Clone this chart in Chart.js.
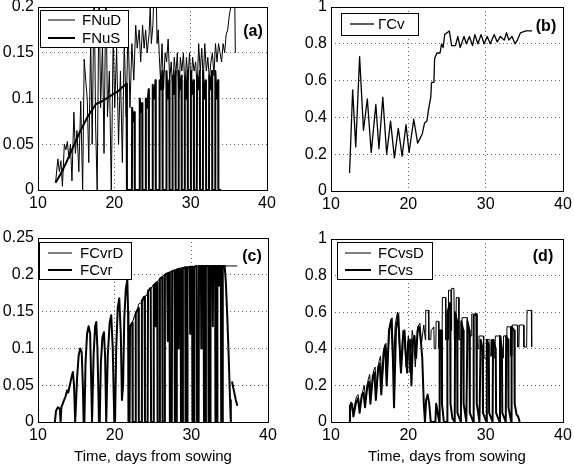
<!DOCTYPE html>
<html>
<head>
<meta charset="utf-8">
<script src="https://cdn.jsdelivr.net/npm/chart.js@4.4.1/dist/chart.umd.min.js"></script>
<style>
  body { margin: 0; background: #fff; }
  #wrap { position: relative; width: 574px; height: 466px; }
  canvas { position: absolute; }
</style>
</head>
<body>
<div id="wrap">
  <canvas id="pa" width="287" height="220" style="left:0;top:0"></canvas>
  <canvas id="pb" width="287" height="220" style="left:287px;top:0"></canvas>
  <canvas id="pc" width="287" height="246" style="left:0;top:220px"></canvas>
  <canvas id="pd" width="287" height="246" style="left:287px;top:220px"></canvas>
</div>
<script>
// values, [day, value]
const fnuD = [[12.3,0.008],[12.6,0.034],[12.8,0.02],[13.0,0.032],[13.2,0.004],[13.45,0.05],[13.65,0.044],[13.85,0.053],[14.05,0.034],[14.25,0.05],[14.45,0.01],[14.7,0.085],[14.9,0.04],[15.1,0.065],[15.35,0.02],[15.6,0.097],[15.85,0],[16.05,0.143],[16.25,0.12],[16.45,0.1],[16.65,0.03],[16.9,0.165],[17.1,0.05],[17.35,0.23],[17.55,0.07],[17.75,0],[18.0,0.23],[18.2,0.09],[18.45,0.16],[18.65,0.04],[18.9,0.23],[19.1,0.08],[19.35,0.13],[19.6,0],[19.85,0.17],[20.05,0.09],[20.3,0.155],[20.55,0.05],[20.8,0.13],[21.05,0.03],[21.3,0.165],[21.55,0.08],[21.8,0.18],[22.05,0.09],[22.3,0.16],[22.55,0.12],[22.8,0.18],[23.0,0.155],[23.25,0.175],[23.45,0.14],[23.7,0.18],[23.9,0.155],[24.1,0.175],[24.3,0.15],[24.55,0.17],[24.7,0.2],[24.85,0.16],[25.05,0.18],[25.25,0.23],[25.45,0.23],[25.6,0.16],[25.75,0.175],[25.9,0.145],[26.05,0.12],[26.25,0.16],[26.45,0.11],[26.65,0.15],[26.85,0.14],[27.05,0.165],[27.25,0.12],[27.45,0.14],[27.65,0.11],[27.85,0.145],[28.05,0.125],[28.25,0.15],[28.45,0.1],[28.65,0.145],[28.85,0.13],[29.05,0.15],[29.25,0.11],[29.45,0.145],[29.65,0.12],[29.85,0.15],[30.05,0.11],[30.25,0.145],[30.45,0.13],[30.65,0.14],[30.85,0.11],[31.05,0.16],[31.25,0.13],[31.45,0.155],[31.65,0.12],[31.85,0.16],[32.05,0.13],[32.25,0.145],[32.45,0.12],[32.65,0.14],[32.85,0.15],[33.05,0.125],[33.25,0.16],[33.45,0.14],[33.65,0.16],[33.85,0.15],[34.05,0.14],[34.25,0.16],[34.45,0.15],[34.65,0.17],[34.85,0.175],[35.05,0.19],[35.25,0.2],[35.45,0.23],[35.75,0.23],[35.85,0.15]];
const fnuS = [[12.3,0.008],[13.0,0.018],[13.7,0.03],[14.5,0.045],[15.4,0.062],[16.5,0.08],[17.6,0.094],[18.4,0.097],[19.7,0.104],[20.5,0.108],[21.0,0.112],[21.6,0.116],[21.65,0],[22.3,0],[22.33,0.09],[22.5,0.075],[22.65,0.085],[22.68,0],[23.3,0],[23.33,0.1],[23.5,0.085],[23.65,0.095],[23.68,0],[24.1,0],[24.13,0.1],[24.3,0.09],[24.5,0.11],[24.53,0],[25.0,0],[25.03,0.115],[25.2,0.1],[25.4,0.12],[25.43,0],[25.9,0],[25.93,0.12],[26.1,0.11],[26.3,0.13],[26.33,0],[26.8,0],[26.83,0.13],[27.0,0.1],[27.2,0.12],[27.23,0],[27.6,0],[27.63,0.125],[27.8,0.105],[28.0,0.13],[28.03,0],[28.4,0],[28.43,0.13],[28.6,0.11],[28.8,0.125],[28.83,0],[29.2,0],[29.23,0.12],[29.4,0.1],[29.6,0.13],[29.63,0],[30.0,0],[30.03,0.13],[30.2,0.105],[30.4,0.12],[30.43,0],[30.8,0],[30.83,0.125],[31.0,0.11],[31.2,0.13],[31.23,0],[31.6,0],[31.63,0.13],[31.8,0.1],[32.0,0.12],[32.03,0],[32.4,0],[32.43,0.125],[32.6,0.11],[32.8,0.13],[32.83,0],[33.2,0],[33.23,0.13],[33.4,0.1],[33.6,0.12],[33.63,0],[34.0,0]];

const gammaCv = [[12.4,0.098],[12.8,0.55],[13.2,0.24],[13.7,0.73],[14.2,0.33],[14.7,0.5],[15.2,0.21],[15.8,0.47],[16.2,0.23],[16.7,0.51],[17.2,0.2],[17.7,0.38],[18.2,0.18],[18.7,0.34],[19.2,0.19],[19.7,0.36],[20.1,0.21],[20.7,0.39],[21.2,0.26],[21.8,0.31],[22.1,0.37],[22.4,0.38],[22.6,0.44],[22.9,0.51],[23.0,0.59],[23.3,0.59],[23.4,0.72],[23.7,0.75],[24.1,0.75],[24.3,0.8],[24.5,0.78],[24.7,0.85],[25.0,0.86],[25.3,0.87],[25.6,0.79],[26.1,0.79],[26.4,0.84],[26.7,0.78],[27.2,0.84],[27.5,0.8],[27.9,0.84],[28.3,0.79],[28.6,0.85],[29.0,0.8],[29.4,0.85],[29.8,0.8],[30.2,0.84],[30.6,0.8],[31.1,0.85],[31.5,0.81],[31.9,0.84],[32.4,0.82],[32.7,0.86],[33.0,0.82],[33.4,0.84],[33.8,0.8],[34.1,0.82],[34.5,0.86],[35.2,0.87],[36.0,0.87]];

const fcvrD = [[22.3,0.135],[22.6,0.145],[23.0,0.152],[23.1,0.16],[23.6,0.163],[23.7,0.17],[24.2,0.172],[24.3,0.178],[24.8,0.182],[25.0,0.186],[25.5,0.19],[26.0,0.196],[26.5,0.2],[27.0,0.203],[27.5,0.205],[28.0,0.207],[28.5,0.209],[29.0,0.21],[29.5,0.211],[30.0,0.211],[31.0,0.212],[32.0,0.212],[33.0,0.212],[34.0,0.212],[35.0,0.212],[36.0,0.212]];
const fcvr = [[12.2,0],[12.35,0.015],[12.6,0.02],[12.85,0.018],[12.95,0],[13.05,0.02],[13.3,0.027],[13.6,0.035],[13.8,0.043],[13.95,0.04],[14.15,0.05],[14.4,0.062],[14.55,0.068],[14.7,0.05],[14.85,0],[14.95,0],[15.1,0.06],[15.3,0.09],[15.5,0.1],[15.7,0.095],[15.85,0.05],[15.95,0],[16.05,0],[16.2,0.08],[16.4,0.12],[16.6,0.13],[16.8,0.12],[16.95,0.05],[17.05,0],[17.1,0],[17.25,0.09],[17.45,0.13],[17.6,0.136],[17.75,0.1],[17.9,0.03],[17.95,0],[18.05,0],[18.2,0.08],[18.4,0.115],[18.6,0.122],[18.75,0.09],[18.9,0],[18.95,0],[19.1,0.09],[19.35,0.135],[19.55,0.145],[19.75,0.1],[19.95,0],[20.05,0],[20.2,0.1],[20.4,0.155],[20.6,0.168],[20.8,0.12],[20.95,0.03],[21.1,0.05],[21.25,0.14],[21.45,0.18],[21.65,0.193],[21.75,0.15],[21.8,0],[21.95,0],[22.0,0.13],[22.3,0.135],[22.35,0],[22.7,0],[22.75,0.148],[23.1,0.155],[23.15,0],[23.5,0],[23.55,0.165],[23.9,0.17],[23.95,0],[24.3,0],[24.35,0.178],[24.7,0.182],[24.75,0],[25.05,0],[25.1,0.186],[25.3,0.188],[25.35,0.13],[25.4,0.189],[25.55,0.19],[25.6,0],[25.85,0],[25.9,0.195],[26.2,0.197],[26.25,0],[26.5,0],[26.55,0.2],[26.85,0.202],[26.9,0.11],[26.95,0.202],[27.15,0.203],[27.2,0],[27.45,0],[27.5,0.205],[27.8,0.206],[27.85,0],[28.05,0],[28.1,0.207],[28.3,0.208],[28.35,0.1],[28.4,0.208],[28.6,0.208],[28.65,0],[28.85,0],[28.9,0.209],[29.2,0.21],[29.25,0],[29.45,0],[29.5,0.21],[29.8,0.21],[29.85,0.12],[29.9,0.211],[30.1,0.211],[30.15,0],[30.35,0],[30.4,0.211],[30.7,0.212],[30.75,0],[30.95,0],[31.0,0.212],[31.25,0.212],[31.3,0.1],[31.35,0.212],[31.6,0.212],[31.65,0],[31.85,0],[31.9,0.212],[32.2,0.212],[32.25,0],[32.45,0],[32.5,0.212],[32.75,0.212],[32.8,0.13],[32.85,0.212],[33.1,0.212],[33.15,0],[33.35,0],[33.4,0.212],[33.55,0.212],[33.6,0.185],[33.65,0.212],[33.85,0.212],[33.9,0],[34.05,0],[34.1,0.212],[34.35,0.212],[34.5,0.19],[34.7,0.14],[34.9,0.08],[35.05,0.03],[35.15,0],[35.2,null],[35.3,0.055],[35.5,0.045],[35.8,0.03],[36.0,0.022]];

const fcvsD = [[12.4,0],[12.5,0.1],[12.6,0.11],[12.8,0.05],[13.0,0.08],[13.3,0.14],[13.5,0.15],[13.7,0.08],[14.0,0.15],[14.3,0.2],[14.5,0.12],[14.8,0.23],[15.0,0.26],[15.2,0.15],[15.5,0.28],[15.7,0.3],[15.9,0.18],[16.2,0.33],[16.4,0.36],[16.6,0.22],[16.9,0.4],[17.1,0.43],[17.3,0.3],[17.6,0.53],[17.9,0.57],[18.1,0.3],[18.3,0.53],[18.6,0.6],[18.8,0.45],[19.0,0.28],[19.3,0.5],[19.5,0.45],[19.7,0.3],[20.0,0.47],[20.2,0.27],[20.5,0.5],[20.7,0.45],[20.9,0.3],[21.2,0.52],[21.5,0.54],[21.7,0.43],[22.0,0.53],[22.2,0.45],[22.25,0.61],[22.6,0.61],[22.65,0.45],[22.9,0.45],[22.95,0.5],[23.3,0.52],[23.35,0.4],[23.55,0.4],[23.6,0.55],[23.9,0.55],[23.95,0.4],[24.35,0.4],[24.4,0.68],[24.8,0.68],[24.85,0.45],[25.15,0.45],[25.2,0.72],[25.5,0.72],[25.55,0.5],[25.6,0.73],[25.9,0.73],[25.95,0.45],[26.15,0.45],[26.2,0.68],[26.5,0.68],[26.55,0.45],[26.9,0.45],[26.95,0.57],[27.6,0.57],[27.65,0.4],[27.85,0.4],[27.9,0.47],[28.15,0.47],[28.2,0.59],[28.85,0.59],[28.9,0.4],[29.1,0.4],[29.15,0.47],[29.7,0.47],[29.75,0.35],[30.15,0.35],[30.2,0.45],[30.55,0.45],[30.6,0.36],[30.7,0.36],[30.75,0.45],[31.0,0.45],[31.05,0.35],[31.2,0.35],[31.25,0.47],[31.9,0.47],[31.95,0.35],[32.25,0.35],[32.3,0.47],[32.7,0.47],[32.75,0.52],[33.2,0.52],[33.25,0.36],[33.4,0.36],[33.45,0.53],[34.1,0.53],[34.15,0.41],[34.3,0.41],[34.35,0.53],[34.9,0.53],[34.95,0.41],[35.3,0.41],[35.35,0.61],[35.9,0.61],[35.95,0.41]];
const fcvs = [[12.4,0],[12.45,0.09],[12.7,0.1],[12.9,0.03],[13.2,0.1],[13.5,0.13],[13.7,0.05],[14.0,0.15],[14.2,0.16],[14.4,0.08],[14.7,0.2],[14.9,0.22],[15.1,0.1],[15.4,0.25],[15.6,0.27],[15.8,0.12],[16.1,0.3],[16.3,0.32],[16.5,0.15],[16.8,0.38],[17.0,0.42],[17.2,0.2],[17.5,0.5],[17.8,0.56],[18.0,0.35],[18.15,0.08],[18.4,0.5],[18.7,0.59],[18.9,0.4],[19.05,0.27],[19.3,0.45],[19.5,0.5],[19.7,0.35],[19.85,0.27],[20.0,0.44],[20.2,0.45],[20.4,0.2],[20.6,0.45],[20.8,0.47],[21.0,0.35],[21.2,0.5],[21.4,0.52],[21.6,0.45],[21.8,0.35],[22.0,0.1],[22.15,0],[22.3,0.12],[22.5,0.15],[22.7,0.1],[22.9,0],[23.5,0],[23.6,0.1],[23.8,0.05],[24.0,0],[24.05,0.5],[24.3,0.5],[24.35,0.1],[24.6,0],[25.0,0],[25.05,0.6],[25.4,0.65],[25.45,0.1],[25.7,0.02],[26.0,0],[26.05,0.6],[26.3,0.55],[26.35,0.05],[26.8,0],[26.85,0.55],[27.1,0.5],[27.15,0.1],[27.5,0],[27.65,0.55],[27.9,0.5],[27.95,0.05],[28.4,0],[28.45,0.58],[28.8,0.59],[28.85,0.1],[29.2,0],[29.35,0.45],[29.6,0.4],[29.65,0.05],[30.1,0],[30.15,0.45],[30.4,0.42],[30.45,0.05],[30.9,0],[30.95,0.45],[31.3,0.4],[31.35,0.05],[31.8,0],[31.85,0.47],[32.1,0.4],[32.15,0.05],[32.6,0],[32.65,0.47],[32.9,0.45],[32.95,0.08],[33.3,0],[33.35,0.52],[33.7,0.5],[33.75,0.1],[34.0,0.04],[34.2,0.03],[34.4,0]];

const xTicks = [10, 20, 30, 40];
const xTitle = 'Time, days from sowing';

const FONT = '"Liberation Sans", Arial, Helvetica, sans-serif';
Chart.defaults.font.family = FONT;
Chart.defaults.font.size = 15;
Chart.defaults.color = '#000';

// draws the axes box, an opaque legend box inside the plot and the panel tag
const framePlugin = {
  id: 'frame',
  afterDatasetsDraw(chart, args, o) {
    const ctx = chart.ctx, a = chart.chartArea;
    ctx.save();
    const [bx, by, bw, bh] = o.box;
    ctx.fillStyle = '#fff';
    ctx.fillRect(bx, by, bw, bh);
    ctx.strokeStyle = '#000';
    ctx.lineWidth = 1;
    ctx.strokeRect(bx + 0.5, by + 0.5, bw, bh);
    ctx.font = '15px ' + FONT;
    ctx.textBaseline = 'middle';
    ctx.fillStyle = '#000';
    chart.data.datasets.forEach((ds, i) => {
      const y = o.rows[i];
      ctx.lineWidth = ds.borderWidth;
      ctx.beginPath();
      ctx.moveTo(o.line[0], y);
      ctx.lineTo(o.line[1], y);
      ctx.stroke();
      ctx.fillText(ds.label, o.textX, y + 1);
    });
    ctx.lineWidth = 1;
    ctx.strokeRect(a.left + 0.5, a.top + 0.5, a.right - a.left, a.bottom - a.top);
    ctx.font = 'bold 16px ' + FONT;
    ctx.textAlign = 'center';
    ctx.fillText(o.tag, o.tagAt[0], o.tagAt[1]);
    ctx.restore();
  }
};

const fmt = v => String(Math.round(v * 100) / 100);
const pts = arr => arr.map(p => ({ x: p[0], y: p[1] }));

function line(label, arr, w) {
  return { label, data: pts(arr), borderColor: '#000', borderWidth: w,
           pointRadius: 0, tension: 0, borderJoinStyle: 'round', spanGaps: false };
}

function makeChart(id, datasets, yMax, yStep, lay, frame, withTitle) {
  new Chart(document.getElementById(id), {
    type: 'line',
    data: { datasets },
    plugins: [framePlugin],
    options: {
      responsive: false,
      animation: false,
      devicePixelRatio: 1,
      layout: { padding: { top: lay.top, right: lay.right, left: 0, bottom: 0 } },
      plugins: { legend: { display: false }, tooltip: { enabled: false }, frame },
      scales: {
        x: {
          type: 'linear', min: 10, max: 40,
          afterBuildTicks: s => { s.ticks = xTicks.map(v => ({ value: v })); },
          ticks: { padding: 4, maxRotation: 0, autoSkip: false, font: { size: 16 } },
          grid: { drawTicks: false, color: 'rgba(0,0,0,0.6)' },
          border: { display: false, dash: [1, 3] },
          title: { display: withTitle, text: xTitle, padding: 0, font: { size: 15 } },
          afterFit: s => { s.height = lay.xh; s.paddingLeft = 0; s.paddingRight = 0; }
        },
        y: {
          min: 0, max: yMax,
          ticks: { stepSize: yStep, padding: 4, callback: fmt, font: { size: 16 } },
          grid: { drawTicks: false, color: 'rgba(0,0,0,0.6)' },
          border: { display: false, dash: [1, 3] },
          afterFit: s => { s.width = lay.yw; s.paddingTop = 0; s.paddingBottom = 0; }
        }
      }
    }
  });
}

makeChart('pa', [line('FNuD', fnuD, 1), line('FNuS', fnuS, 2)], 0.2, 0.05,
  { top: 7, right: 20, yw: 38, xh: 30 },
  { box: [40, 10, 88, 37], rows: [20, 38], line: [48, 75], textX: 82, tag: '(a)', tagAt: [253, 32] }, false);

makeChart('pb', [line('\u0393Cv', gammaCv, 1.3)], 1, 0.2,
  { top: 7, right: 11, yw: 44, xh: 29 },
  { box: [54, 13, 77, 22], rows: [24], line: [63, 87], textX: 91, tag: '(b)', tagAt: [259, 27] }, false);

makeChart('pc', [line('FCvrD', fcvrD, 1), line('FCvr', fcvr, 2)], 0.25, 0.05,
  { top: 18, right: 19, yw: 38, xh: 44 },
  { box: [39, 22, 92, 37], rows: [33, 50], line: [48, 72], textX: 80, tag: '(c)', tagAt: [252, 37] }, true);

makeChart('pd', [line('FCvsD', fcvsD, 1), line('FCvs', fcvs, 2)], 1, 0.2,
  { top: 19, right: 11, yw: 44, xh: 44 },
  { box: [50, 22, 95, 37], rows: [33, 50], line: [58, 84], textX: 91, tag: '(d)', tagAt: [256, 37] }, true);
</script>
</body>
</html>
